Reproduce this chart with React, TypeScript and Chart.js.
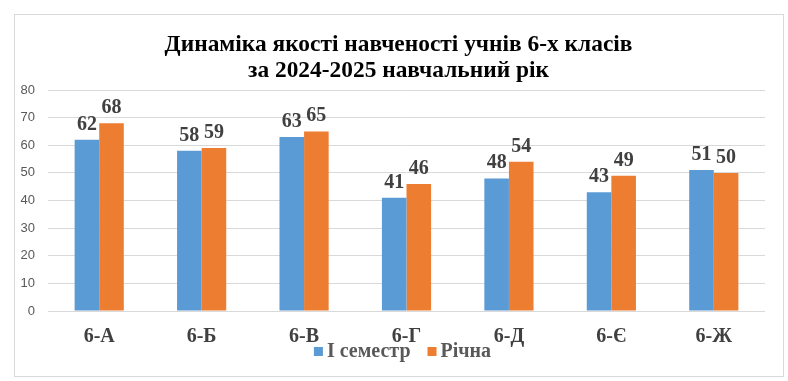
import React, { useEffect, useRef } from "react";
import { Chart, registerables } from "chart.js";

Chart.register(...registerables);

const titleLines = ["Динаміка якості навченості учнів 6-х класів", "за 2024-2025 навчальний рік"];
const categories = ["6-А", "6-Б", "6-В", "6-Г", "6-Д", "6-Є", "6-Ж"];
const semester1 = [62, 58, 63, 41, 48, 43, 51];
const annual = [68, 59, 65, 46, 54, 49, 50];
const seriesNames = ["І семестр", "Річна"];
const seriesColors = ["#5B9BD5", "#ED7D31"];
const yTicks = [0, 10, 20, 30, 40, 50, 60, 70, 80];

const SERIF = '"Liberation Serif", "Times New Roman", serif';

function drawScaled(ctx: CanvasRenderingContext2D, text: string, x: number, y: number, sx: number) {
  ctx.save();
  ctx.translate(x, y);
  ctx.scale(sx, 1);
  ctx.fillText(text, 0, 0);
  ctx.restore();
}

const customText = {
  id: "customText",
  afterDatasetsDraw(chart: any) {
    const ctx = chart.ctx as CanvasRenderingContext2D;
    const xs = chart.scales.x;
    const area = chart.chartArea;
    const mid = (area.left + area.right) / 2;
    ctx.save();
    ctx.textBaseline = "alphabetic";
    // data labels
    ctx.font = `bold 20px ${SERIF}`;
    ctx.fillStyle = "#404040";
    ctx.textAlign = "center";
    chart.data.datasets.forEach((ds: any, di: number) => {
      const meta = chart.getDatasetMeta(di);
      meta.data.forEach((el: any, i: number) => {
        ctx.fillText(String(ds.data[i]), el.x, el.y - 10);
      });
    });
    // category labels
    ctx.font = `bold 20px ${SERIF}`;
    ctx.fillStyle = "#404040";
    categories.forEach((c, i) => {
      ctx.fillText(c, xs.getPixelForValue(i), area.bottom + 31);
    });
    // title
    ctx.font = `bold 24px ${SERIF}`;
    ctx.fillStyle = "#000000";
    titleLines.forEach((t, i) => {
      drawScaled(ctx, t, mid - 8, 51 + i * 26, 0.975);
    });
    // legend
    ctx.font = `bold 20px ${SERIF}`;
    ctx.textAlign = "left";
    const box = 9;
    const gap = 4;
    const itemGap = 17;
    const widths = chart.data.datasets.map((ds: any) => box + gap + ctx.measureText(ds.label).width);
    const total = widths.reduce((a: number, b: number) => a + b, 0) + itemGap * (widths.length - 1);
    let lx = mid - 4 - total / 2;
    const ly = area.bottom + 46;
    chart.data.datasets.forEach((ds: any, di: number) => {
      ctx.fillStyle = ds.backgroundColor;
      ctx.fillRect(lx, ly - 10, box, box);
      ctx.fillStyle = "#595959";
      ctx.fillText(ds.label, lx + box + gap, ly);
      lx += widths[di] + itemGap;
    });
    ctx.restore();
  },
};

export default function App() {
  const ref = useRef<HTMLCanvasElement | null>(null);
  useEffect(() => {
    if (!ref.current) return;
    const chart = new Chart(ref.current, {
      type: "bar",
      data: {
        labels: categories,
        datasets: [
          { label: seriesNames[0], data: semester1, backgroundColor: seriesColors[0] },
          { label: seriesNames[1], data: annual, backgroundColor: seriesColors[1] },
        ],
      },
      options: {
        animation: false,
        responsive: false,
        maintainAspectRatio: false,
        layout: { padding: { left: 0, right: 23, top: 90, bottom: 70 } },
        plugins: { legend: { display: false }, title: { display: false }, tooltip: { enabled: false } },
        datasets: { bar: { categoryPercentage: 0.48, barPercentage: 1 } },
        scales: {
          x: {
            ticks: { display: false },
            grid: { display: false, drawTicks: false },
            border: { display: false },
            afterFit: (s: any) => { s.height = 0; },
          },
          y: {
            min: 0,
            max: 80,
            afterBuildTicks: (s: any) => { s.ticks = yTicks.map((v) => ({ value: v })); },
            ticks: {
              padding: 13,
              color: "#595959",
              font: { family: '"Liberation Sans", Arial, sans-serif', size: 13 },
            },
            grid: { color: "#d9d9d9", drawTicks: false, lineWidth: 1 },
            border: { display: false },
            afterFit: (s: any) => { s.width = 48; },
          },
        },
      },
      plugins: [customText],
    });
    return () => chart.destroy();
  }, []);
  return (
    <div style={{ position: "fixed", left: 0, top: 0, width: 788, height: 381, background: "#fff" }}>
      <div
        style={{
          position: "absolute",
          left: 14,
          top: 14,
          width: 770,
          height: 363,
          border: "1px solid #d9d9d9",
          boxSizing: "border-box",
        }}
      />
      <canvas ref={ref} width={788} height={381} style={{ position: "absolute", left: 0, top: 0 }} />
    </div>
  );
}
